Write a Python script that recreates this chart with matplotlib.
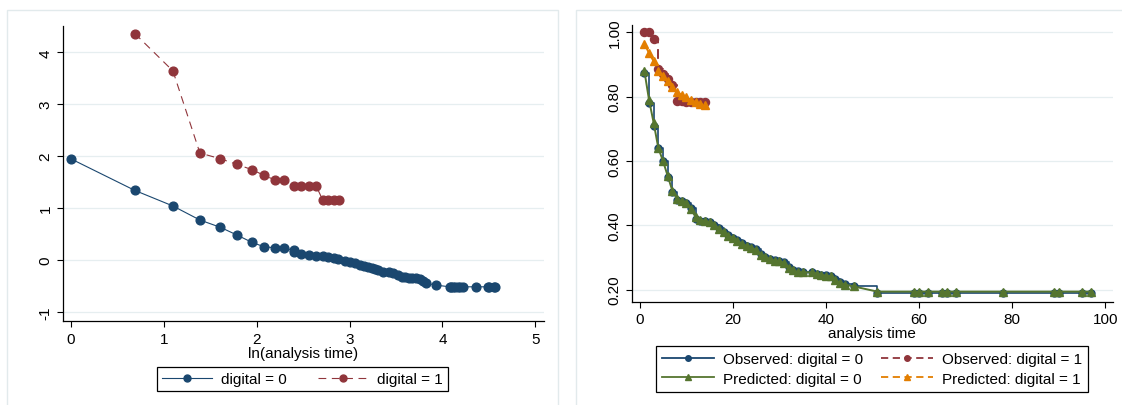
import matplotlib
matplotlib.use("Agg")
import matplotlib.pyplot as plt
from matplotlib.patches import Rectangle
from matplotlib.lines import Line2D
import numpy as np

plt.rcParams['font.family'] = ['Liberation Sans', 'DejaVu Sans']

# ---------------- Left panel data: -ln(-ln S) vs ln(analysis time) -------------
lx0 = [0.00, 0.69, 1.10, 1.39, 1.61, 1.79, 1.95, 2.08, 2.20, 2.30, 2.40, 2.40,
       2.48, 2.56, 2.64, 2.71, 2.77, 2.83, 2.88, 2.95, 3.00, 3.06, 3.11, 3.16,
       3.20, 3.24, 3.27, 3.31, 3.36, 3.42, 3.47, 3.52, 3.56, 3.60, 3.64, 3.67,
       3.72, 3.76, 3.79, 3.82, 3.93, 4.08, 4.09, 4.11, 4.13, 4.17, 4.19, 4.22,
       4.36, 4.49, 4.50, 4.55, 4.57]
ly0 = [1.95, 1.34, 1.04, 0.77, 0.63, 0.48, 0.34, 0.255, 0.235, 0.225, 0.19, 0.15,
       0.108, 0.094, 0.075, 0.069, 0.05, 0.030, 0.010, -0.010, -0.03, -0.06, -0.09, -0.118,
       -0.13, -0.15, -0.17, -0.195, -0.227, -0.24, -0.252, -0.297, -0.323, -0.335, -0.342, -0.35,
       -0.355, -0.368, -0.406, -0.445, -0.484, -0.516, -0.516, -0.516, -0.516, -0.516, -0.516, -0.516,
       -0.516, -0.516, -0.516, -0.516, -0.516]
lx1 = [0.69, 1.10, 1.39, 1.61, 1.79, 1.95, 2.08, 2.20, 2.30, 2.40, 2.48, 2.56,
       2.64, 2.71, 2.77, 2.83, 2.89]
ly1 = [4.36, 3.64, 2.06, 1.95, 1.84, 1.74, 1.63, 1.54, 1.54, 1.43, 1.43, 1.43,
       1.43, 1.16, 1.16, 1.16, 1.16]
left_labels = ["digital = 0", "digital = 1"]

# ---------------- Right panel data: survival vs analysis time -------------------
t0 = [1, 2, 3, 4, 5, 6, 7, 8, 9, 10, 11, 12, 13, 14, 15, 16, 17, 18, 19, 20,
      21, 22, 23, 24, 25, 26, 27, 28, 29, 30, 31, 32, 33, 34, 35, 37, 38, 39,
      40, 41, 42, 43, 44, 46, 51, 59, 60, 62, 65, 66, 68, 78, 89, 90, 95, 97]
obs0 = [0.875, 0.78, 0.71, 0.64, 0.60, 0.55, 0.505, 0.48, 0.475, 0.47, 0.455, 0.42,
        0.415, 0.412, 0.41, 0.40, 0.392, 0.38, 0.37, 0.36, 0.355, 0.345, 0.335, 0.332,
        0.325, 0.31, 0.302, 0.296, 0.292, 0.29, 0.286, 0.27, 0.262, 0.257, 0.256, 0.256,
        0.25, 0.247, 0.246, 0.244, 0.232, 0.224, 0.218, 0.21, 0.19, 0.19, 0.19, 0.19,
        0.19, 0.19, 0.19, 0.19, 0.19, 0.19, 0.19, 0.19]
pred0 = [0.88, 0.79, 0.718, 0.64, 0.60, 0.554, 0.508, 0.482, 0.476, 0.468, 0.45, 0.426,
         0.418, 0.414, 0.41, 0.40, 0.39, 0.378, 0.368, 0.362, 0.352, 0.342, 0.336, 0.33,
         0.324, 0.308, 0.30, 0.296, 0.29, 0.288, 0.284, 0.268, 0.26, 0.254, 0.254, 0.254,
         0.25, 0.246, 0.244, 0.242, 0.23, 0.222, 0.216, 0.21, 0.194, 0.194, 0.194, 0.194,
         0.194, 0.194, 0.194, 0.194, 0.194, 0.194, 0.194, 0.194]
t1 = [1, 2, 3, 4, 5, 6, 7, 8, 9, 10, 11, 12, 13, 14]
obs1 = [1.0, 1.0, 0.98, 0.885, 0.87, 0.855, 0.835, 0.785, 0.785, 0.783, 0.783, 0.783,
        0.783, 0.783]
pred1 = [0.965, 0.935, 0.91, 0.88, 0.865, 0.848, 0.83, 0.815, 0.805, 0.798, 0.79, 0.783,
         0.778, 0.774]
right_labels = ["Observed: digital = 0", "Predicted: digital = 0",
                "Observed: digital = 1", "Predicted: digital = 1"]

NAVY = '#1a476f'
MAROON = '#90353b'
GREEN = '#55752f'
ORANGE = '#e37e00'
GRID = '#e6eef0'
FS = 11

fig = plt.figure(figsize=(11.22, 4.06), dpi=100)
fig.patch.set_facecolor('white')

# panel frames
fig.patches.append(Rectangle((7/1122, -0.01), 551/1122, 1 - 11/406 + 0.01,
                             transform=fig.transFigure, fill=False,
                             edgecolor='#e2eaec', lw=1.0))
fig.patches.append(Rectangle((576/1122, -0.01), 560/1122, 1 - 11/406 + 0.01,
                             transform=fig.transFigure, fill=False,
                             edgecolor='#e2eaec', lw=1.0))

ax1 = fig.add_axes([62.8/1122, 1 - 322.3/406, 481/1122, 295/406])
ax2 = fig.add_axes([631.8/1122, 1 - 302.7/406, 481/1122, 276.7/406])

for ax in (ax1, ax2):
    for s in ('top', 'right'):
        ax.spines[s].set_visible(False)
    for s in ('left', 'bottom'):
        ax.spines[s].set_color('black')
        ax.spines[s].set_linewidth(0.9)
    ax.yaxis.grid(True, color=GRID, lw=0.9)
    ax.set_axisbelow(True)
    ax.tick_params(axis='both', direction='out', length=4, width=0.8,
                   labelsize=FS, colors='black')

# ---------------- Left panel --------------------------------------------------
ax1.plot(lx0, ly0, color=NAVY, lw=0.8, marker='o', ms=6.3, mec=NAVY, mfc=NAVY,
         label=left_labels[0], zorder=3)
ax1.plot(lx1, ly1, color=MAROON, lw=0.8, ls=(0, (7, 5)), marker='o', ms=6.3,
         mec=MAROON, mfc=MAROON, label=left_labels[1], zorder=3)
ax1.set_xlim(-0.085, 5.09)
ax1.set_ylim(-1.18, 4.5)
ax1.set_xticks([0, 1, 2, 3, 4, 5])
ax1.set_yticks([-1, 0, 1, 2, 3, 4])
ax1.set_yticklabels(['-1', '0', '1', '2', '3', '4'], rotation=90, va='center')
ax1.set_xlabel("ln(analysis time)", fontsize=FS, labelpad=0)

h1 = [Line2D([], [], color=NAVY, lw=0.8, marker='o', ms=5, mfc=NAVY, mec=NAVY),
      Line2D([], [], color=MAROON, lw=0.8, ls=(0, (7, 5)), marker='o', ms=5,
             mfc=MAROON, mec=MAROON)]
leg1 = fig.legend(h1, left_labels, loc='center', bbox_to_anchor=(302.5/1122, 1 - 380/406),
                  ncol=2, fontsize=FS, frameon=True, fancybox=False, framealpha=1,
                  edgecolor='black', handlelength=3.3, handletextpad=0.6,
                  columnspacing=2.0, borderpad=0.35)
leg1.get_frame().set_linewidth(0.9)

# ---------------- Right panel -------------------------------------------------
ax2.plot(t0, obs0, color=NAVY, lw=1.2, drawstyle='steps-post', zorder=3)
ax2.plot(t0, obs0, ls='none', marker='o', ms=5, mfc=NAVY, mec=NAVY, zorder=3)
ax2.plot(t1, obs1, color=MAROON, lw=1.4, ls=(0, (5, 3)), drawstyle='steps-post', zorder=3)
ax2.plot(t1, obs1, ls='none', marker='o', ms=5.8, mfc=MAROON, mec=MAROON, zorder=3)
ax2.plot(t0, pred0, color=GREEN, lw=1.4, marker='^', ms=6, mfc=GREEN, mec=GREEN, zorder=4)
ax2.plot(t1, pred1, color=ORANGE, lw=1.4, ls=(0, (5, 3)), marker='^', ms=6,
         mfc=ORANGE, mec=ORANGE, zorder=4)
ax2.set_xlim(-1.7, 101.6)
ax2.set_ylim(0.1626, 1.0227)
ax2.set_xticks([0, 20, 40, 60, 80, 100])
ax2.set_yticks([0.2, 0.4, 0.6, 0.8, 1.0])
ax2.set_yticklabels(['0.20', '0.40', '0.60', '0.80', '1.00'], rotation=90, va='center')
ax2.set_xlabel("analysis time", fontsize=FS, labelpad=0)

h2 = [Line2D([], [], color=NAVY, lw=1.3, marker='o', ms=4, mfc=NAVY, mec=NAVY),
      Line2D([], [], color=GREEN, lw=1.3, marker='^', ms=5, mfc=GREEN, mec=GREEN),
      Line2D([], [], color=MAROON, lw=1.3, ls=(0, (4, 2.5)), marker='o', ms=4,
             mfc=MAROON, mec=MAROON),
      Line2D([], [], color=ORANGE, lw=1.3, ls=(0, (4, 2.5)), marker='^', ms=5,
             mfc=ORANGE, mec=ORANGE)]
leg2 = fig.legend(h2, right_labels, loc='center', bbox_to_anchor=(872/1122, 1 - 370/406),
                  ncol=2, fontsize=FS, frameon=True, fancybox=False, framealpha=1,
                  edgecolor='black', handlelength=3.4, handletextpad=0.55,
                  columnspacing=1.2, borderpad=0.4, labelspacing=0.35)
leg2.get_frame().set_linewidth(0.9)

fig.savefig("out.png", dpi=100, facecolor='white')
